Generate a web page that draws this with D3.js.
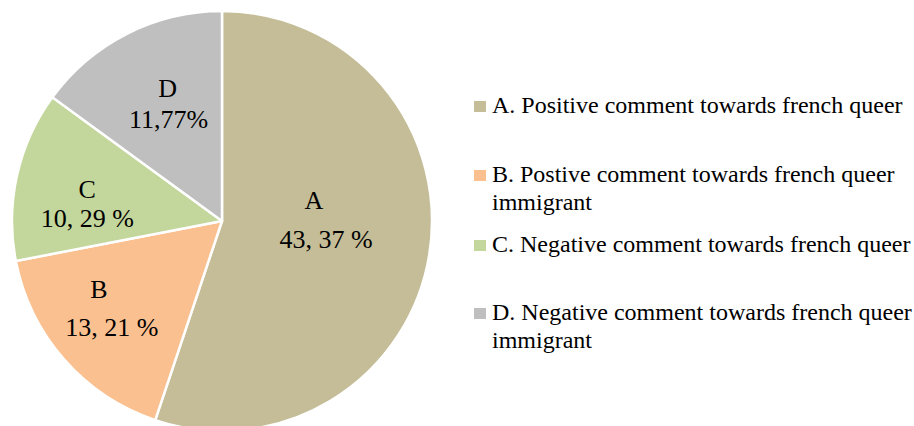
<!DOCTYPE html>
<html>
<head>
<meta charset="utf-8">
<script src="https://cdn.jsdelivr.net/npm/d3@7"></script>
<style>
  html, body { margin: 0; padding: 0; background: #fff; }
  svg { display: block; }
  text { font-family: "Liberation Serif", "Times New Roman", serif; fill: #000; }
</style>
</head>
<body>
<svg id="chart" width="914" height="426"></svg>
<script>
// ---- data ----
const categories = ["A", "B", "C", "D"];
const values = [43.37, 13.21, 10.29, 11.77];
const valueLabels = ["43, 37 %", "13, 21 %", "10, 29 %", "11,77%"];
const legendLabels = [
  ["A. Positive comment towards french queer"],
  ["B. Postive comment towards french queer", "immigrant"],
  ["C. Negative comment towards french queer"],
  ["D. Negative comment towards french queer", "immigrant"]
];
const colors = ["#C4BD97", "#FAC090", "#C3D69B", "#BFBFBF"];

// ---- layout ----
const svg = d3.select("#chart");
const cx = 222, cy = 221, R = 210;
const labelRadius = [100, 150, 134, 122];
const labelAngleShift = [-8, 2, -9, 1]; // degrees nudge
const legendY = [113, 182, 252, 320];

const rows = categories.map((c, i) => ({ cat: c, value: values[i], i }));
const pie = d3.pie().value(d => d.value).sort(null);
const arcs = pie(rows);
const arc = d3.arc().innerRadius(0).outerRadius(R);

const g = svg.append("g").attr("transform", `translate(${cx},${cy})`);
g.selectAll("path").data(arcs).enter().append("path")
  .attr("d", arc)
  .attr("fill", d => colors[d.data.i])
  .attr("stroke", "#fff")
  .attr("stroke-width", 2.5)
  .attr("stroke-linejoin", "round");

const labels = g.selectAll("g.lbl").data(arcs).enter().append("g").attr("class", "lbl")
  .attr("transform", d => {
    const i = d.data.i;
    const a = (d.startAngle + d.endAngle) / 2 + labelAngleShift[i] * Math.PI / 180;
    const r = labelRadius[i];
    return `translate(${r * Math.sin(a)},${-r * Math.cos(a)})`;
  });
const catOffsets = [[-8, -14], [-7, -18], [-1, -15], [-1, -14]];
const valOffsets = [[4, 25], [6, 20], [-1, 14], [0, 17]];
labels.append("text")
  .attr("text-anchor", "middle")
  .attr("font-size", 26)
  .attr("x", d => catOffsets[d.data.i][0])
  .attr("y", d => catOffsets[d.data.i][1])
  .text(d => d.data.cat);
labels.append("text")
  .attr("text-anchor", "middle")
  .attr("font-size", 26)
  .attr("x", d => valOffsets[d.data.i][0])
  .attr("y", d => valOffsets[d.data.i][1])
  .text(d => valueLabels[d.data.i]);

// ---- legend ----
const leg = svg.append("g");
const items = leg.selectAll("g").data(categories).enter().append("g")
  .attr("transform", (d, i) => `translate(474,${legendY[i]})`);
items.append("rect")
  .attr("x", 0).attr("y", -12).attr("width", 12).attr("height", 11)
  .attr("fill", (d, i) => colors[i]);
items.append("text")
  .attr("x", 18)
  .attr("font-size", 24)
  .selectAll("tspan").data((d, i) => legendLabels[i]).enter().append("tspan")
  .attr("x", 18)
  .attr("dy", (t, j) => j === 0 ? 0 : 28)
  .text(t => t);
</script>
</body>
</html>
